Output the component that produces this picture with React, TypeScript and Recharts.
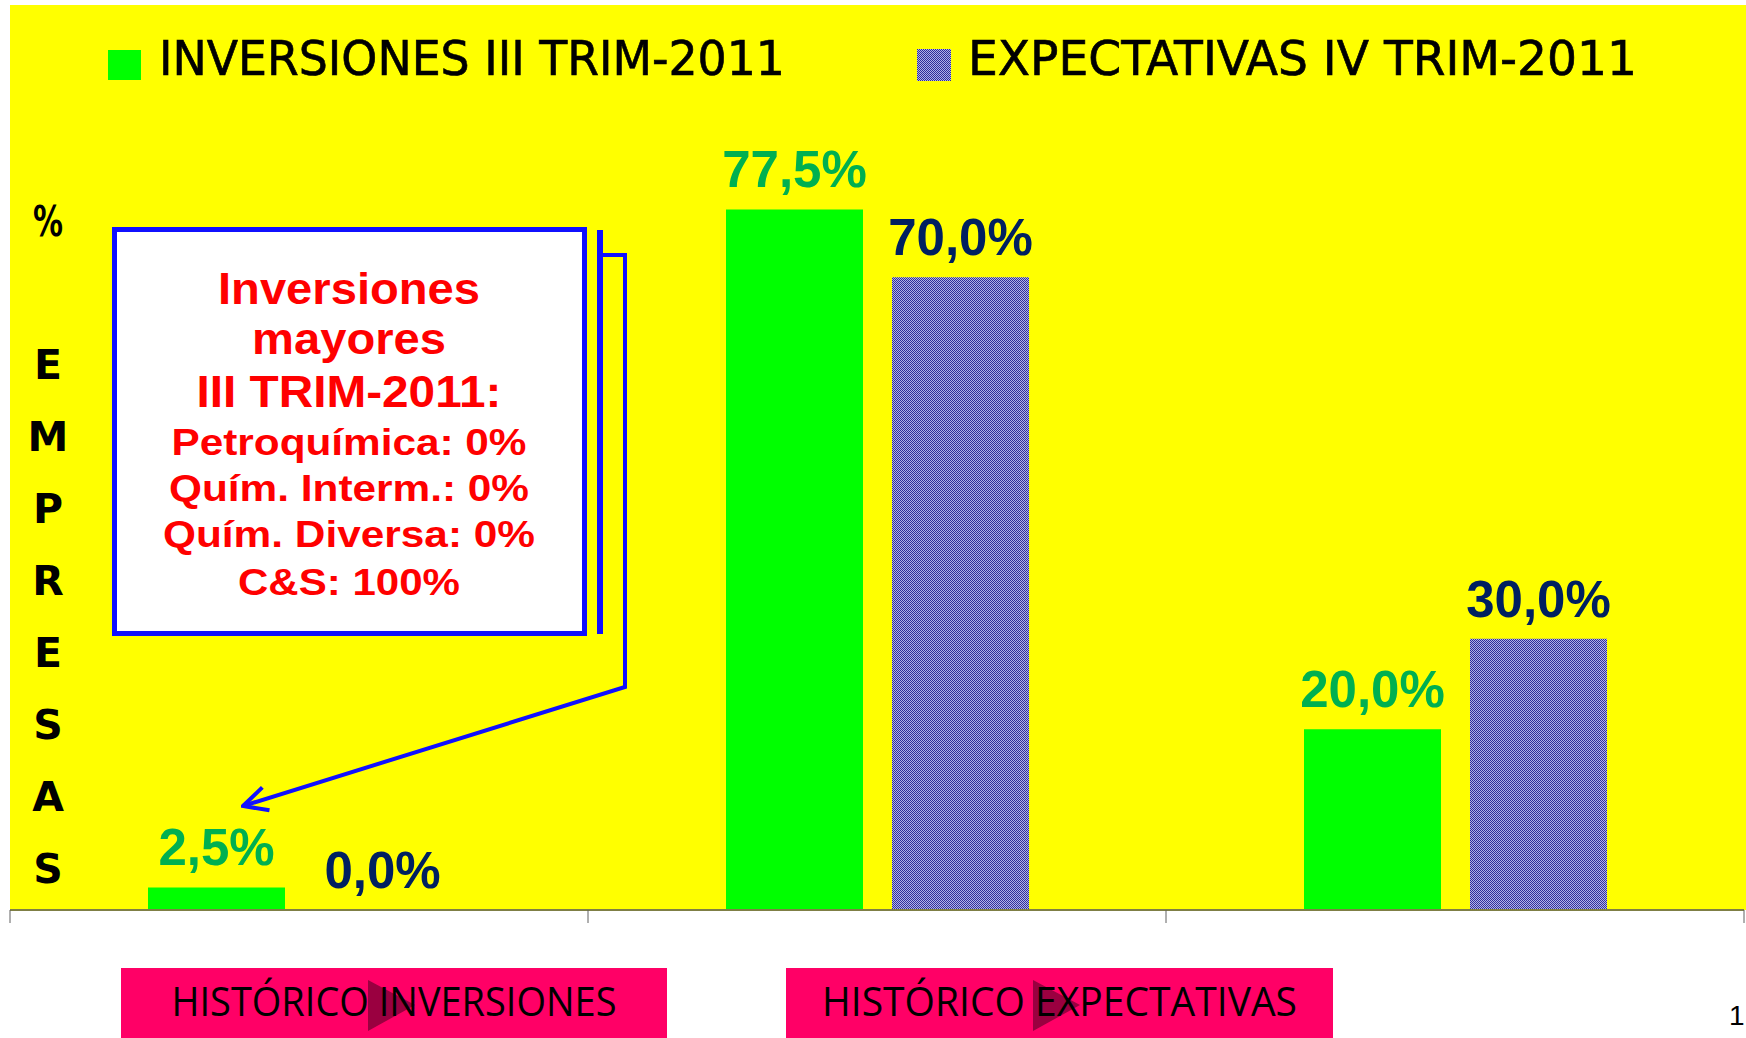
import { Bar, BarChart, LabelList, Legend, XAxis, YAxis } from "recharts";

const categories = ["Mayores", "Iguales", "Menores"];
const inversiones = [2.5, 77.5, 20.0];
const expectativas = [0.0, 70.0, 30.0];
const seriesNames = ["INVERSIONES III TRIM-2011", "EXPECTATIVAS IV TRIM-2011"];
const edgeTicks = [0, 1, 2, 3];
const yAxisTitle = "%";
const yAxisLetters = ["E", "M", "P", "R", "E", "S", "A", "S"];
const calloutTitle = ["Inversiones", "mayores", "III TRIM-2011:"];
const calloutRows = [
  "Petroquímica: 0%",
  "Quím. Interm.: 0%",
  "Quím. Diversa: 0%",
  "C&S: 100%",
];
const buttonLabels = ["HISTÓRICO INVERSIONES", "HISTÓRICO EXPECTATIVAS"];
const pageNumber = "1";

// categories sit in the middle of each [i, i+1] slot so axis ticks mark the slot edges
const chartData = categories.map((name, i) => ({
  name,
  slot: i + 0.5,
  inversiones: inversiones[i],
  expectativas: expectativas[i],
}));

const GREEN = "#00ff00";
const GREEN_TEXT = "#00b050";
const NAVY_TEXT = "#002060";
const BLUE_LINE = "#1010ff";
const RED = "#ff0000";
const PINK = "#ff0066";

const W = 1746;
const H = 1038;

const formatPct = (v: number) => `${Number(v).toFixed(1).replace(".", ",")}%`;

function DitherPattern({ id }: { id: string }) {
  return (
    <pattern id={id} width={2} height={2} patternUnits="userSpaceOnUse">
      <rect width={2} height={2} fill="#b2b2e8" />
      <rect x={0} y={0} width={1} height={1} fill="#30309a" />
      <rect x={1} y={1} width={1} height={1} fill="#30309a" />
    </pattern>
  );
}

function valueLabel(color: string) {
  return (props: any) => {
    const { x, y, width, value } = props;
    return (
      <text
        x={Number(x) + Number(width) / 2}
        y={Number(y) - 22}
        textAnchor="middle"
        fill={color}
        fontFamily="'Liberation Sans', Arial, sans-serif"
        fontWeight={700}
        fontSize={51}
      >
        {formatPct(value)}
      </text>
    );
  };
}

function TopLegend() {
  const font = "'DejaVu Sans Condensed', 'DejaVu Sans', sans-serif";
  return (
    <svg width={W} height={100} style={{ display: "block" }}>
      <defs>
        <DitherPattern id="legendDither" />
      </defs>
      <rect x={108} y={50} width={33} height={30} fill={GREEN} />
      <text x={159} y={75} fontFamily={font} fontSize={48} fill="#000" stroke="#000" strokeWidth={0.6} textLength={626} lengthAdjust="spacingAndGlyphs">
        {seriesNames[0]}
      </text>
      <rect x={917} y={49} width={34} height={32} fill="url(#legendDither)" />
      <text x={968} y={75} fontFamily={font} fontSize={48} fill="#000" stroke="#000" strokeWidth={0.6} textLength={669} lengthAdjust="spacingAndGlyphs">
        {seriesNames[1]}
      </text>
    </svg>
  );
}

function Overlay() {
  const letterFont = "'DejaVu Sans', Verdana, sans-serif";
  const boxFont = "'Liberation Sans', Arial, sans-serif";
  const titleBaselines = [304, 354, 407];
  const titleLengths = [262, 194, 305];
  const rowBaselines = [455, 501, 547, 595];
  const rowLengths = [355, 360, 372, 222];
  const buttons = [
    { x: 121, w: 546, tri: 368, len: 445 },
    { x: 786, w: 547, tri: 1033, len: 475 },
  ];
  return (
    <svg width={W} height={H} style={{ position: "absolute", left: 0, top: 0, pointerEvents: "none" }}>
      <defs>
        <marker
          id="openArrow"
          viewBox="0 0 28 28"
          markerWidth={28}
          markerHeight={28}
          refX={26}
          refY={14}
          markerUnits="userSpaceOnUse"
          orient="auto"
        >
          <path d="M2,2 L26,14 L2,26" fill="none" stroke={BLUE_LINE} strokeWidth={4} />
        </marker>
      </defs>

      {/* y axis title, stacked letters */}
      <text
        x={48}
        y={236}
        textAnchor="middle"
        fontFamily={letterFont}
        fontWeight={700}
        fontSize={42}
        fill="#000"
        textLength={30}
        lengthAdjust="spacingAndGlyphs"
      >
        {yAxisTitle}
      </text>
      {yAxisLetters.map((ch, i) => (
        <text
          key={i}
          x={48}
          y={379 + i * 72}
          textAnchor="middle"
          fontFamily={letterFont}
          fontWeight={700}
          fontSize={41}
          fill="#000"
        >
          {ch}
        </text>
      ))}

      {/* callout */}
      <rect x={114.5} y={229.5} width={470} height={404} fill="#fff" stroke={BLUE_LINE} strokeWidth={5} />
      <line x1={600} y1={230} x2={600} y2={634} stroke={BLUE_LINE} strokeWidth={6} />
      <polyline
        points="603,255 625,255 625,687 243,806"
        fill="none"
        stroke={BLUE_LINE}
        strokeWidth={4}
        markerEnd="url(#openArrow)"
      />
      {calloutTitle.map((t, i) => (
        <text
          key={t}
          x={349}
          y={titleBaselines[i]}
          textAnchor="middle"
          fontFamily={boxFont}
          fontWeight={700}
          fontSize={44}
          fill={RED}
          textLength={titleLengths[i]}
          lengthAdjust="spacingAndGlyphs"
        >
          {t}
        </text>
      ))}
      {calloutRows.map((t, i) => (
        <text
          key={t}
          x={349}
          y={rowBaselines[i]}
          textAnchor="middle"
          fontFamily={boxFont}
          fontWeight={700}
          fontSize={37}
          fill={RED}
          textLength={rowLengths[i]}
          lengthAdjust="spacingAndGlyphs"
        >
          {t}
        </text>
      ))}

      {/* navigation buttons */}
      {buttons.map((b, i) => (
        <g key={i}>
          <rect x={b.x} y={968} width={b.w} height={H - 968} fill={PINK} />
          <polygon points={`${b.tri},980 ${b.tri + 47},1005 ${b.tri},1031`} fill="#9a0040" />
          <text
            x={b.x + b.w / 2}
            y={1016}
            textAnchor="middle"
            fontFamily="'Open Sans', 'Noto Sans', sans-serif"
            fontSize={40}
            fill="#000"
            textLength={b.len}
            lengthAdjust="spacingAndGlyphs"
          >
            {buttonLabels[i]}
          </text>
        </g>
      ))}

      <text x={1729} y={1025} fontFamily="'Liberation Sans', Arial, sans-serif" fontSize={28} fill="#000">
        {pageNumber}
      </text>
    </svg>
  );
}

export default function App() {
  return (
    <div style={{ position: "absolute", left: 0, top: 0, width: W, height: H, background: "#fff", overflow: "hidden" }}>
      <div style={{ position: "absolute", left: 10, top: 5, width: W - 10, height: 905, background: "#ffff00" }} />
      <div style={{ position: "absolute", left: 0, top: 0 }}>
        <BarChart
          width={W}
          height={H}
          data={chartData}
          margin={{ top: 6, right: 2, bottom: 108, left: 10 }}
          barSize={137}
          barGap={29}
        >
          <defs>
            <DitherPattern id="barDither" />
          </defs>
          <XAxis
            dataKey="slot"
            type="number"
            domain={[0, 3]}
            ticks={edgeTicks}
            allowDataOverflow
            height={20}
            axisLine={{ stroke: "#7f7f45", strokeWidth: 2 }}
            tickLine={{ stroke: "#606060", strokeWidth: 1 }}
            tickSize={13}
            tickFormatter={() => ""}
          />
          <YAxis hide domain={[0, 100]} />
          <Legend
            layout="horizontal"
            verticalAlign="middle"
            align="center"
            wrapperStyle={{ position: "absolute", left: 0, top: 0, width: W, height: 100 }}
            content={() => <TopLegend />}
          />
          <Bar dataKey="inversiones" name={seriesNames[0]} fill={GREEN} isAnimationActive={false}>
            <LabelList dataKey="inversiones" content={valueLabel(GREEN_TEXT)} />
          </Bar>
          <Bar
            dataKey="expectativas"
            name={seriesNames[1]}
            fill="url(#barDither)"
            minPointSize={(v: number) => (v === 0 ? 0.01 : 0)}
            isAnimationActive={false}
          >
            <LabelList dataKey="expectativas" content={valueLabel(NAVY_TEXT)} />
          </Bar>
        </BarChart>
      </div>
      <Overlay />
    </div>
  );
}
